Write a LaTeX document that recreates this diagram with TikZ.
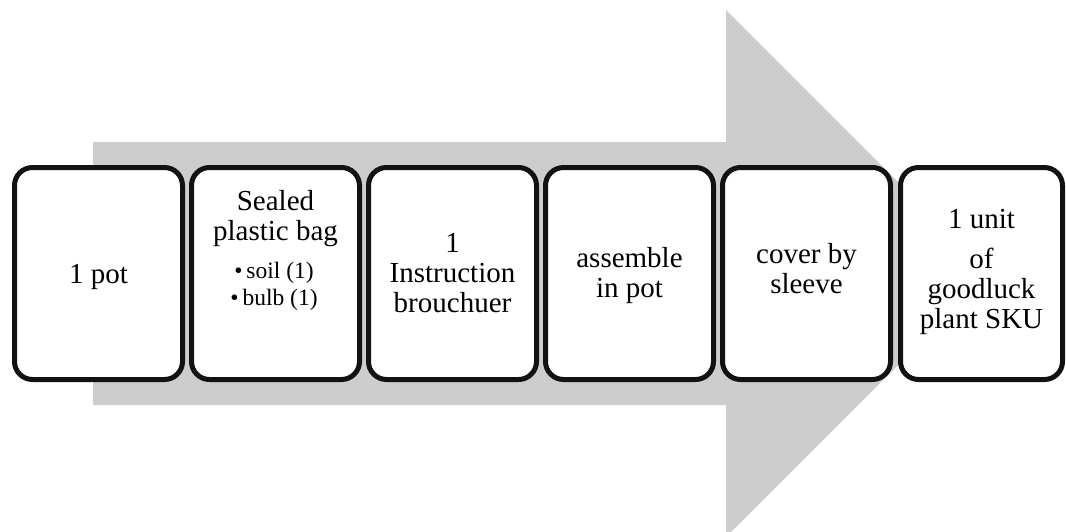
\documentclass[tikz,border=0pt]{standalone}
\usepackage{fontspec}
\setmainfont{Liberation Serif}
\begin{document}
\begin{tikzpicture}[x=1pt,y=-1pt,
  stepbox/.style={draw=black!93,line width=5pt,rounded corners=18pt,fill=white,
    minimum width=168pt,minimum height=212pt,inner sep=0pt},
  lastbox/.style={stepbox,minimum width=162pt},
  big/.style={anchor=base,inner sep=0pt,font=\fontsize{29}{30}\selectfont},
  small/.style={anchor=base,inner sep=0pt,font=\fontsize{23.5}{27}\selectfont}]
\definecolor{arrowgray}{RGB}{205,205,205}
\useasboundingbox (0,0) rectangle (1066,531);
\clip (0,0) rectangle (1066,531);
% wide background arrow
\fill[arrowgray] (93,142) -- (726,142) -- (726,10) -- (989.5,273.5)
  -- (726,537) -- (726,405) -- (93,405) -- cycle;
% process steps
\node[stepbox] (b1) at (98.5,273.5) {};
\node[stepbox] (b2) at (275.5,273.5) {};
\node[stepbox] (b3) at (452.5,273.5) {};
\node[stepbox] (b4) at (629.5,273.5) {};
\node[stepbox] (b5) at (806.5,273.5) {};
\node[lastbox] (b6) at (981.5,273.5) {};
% labels
\node[big] (t1) at (98.5,283) {1 pot};
\node[big] (t2a) at (275.5,210) {Sealed};
\node[big] (t2b) at (275.5,240) {plastic bag};
\node[small] (t2c) at (274,278) {\textbullet\,soil (1)};
\node[small] (t2d) at (274,305) {\textbullet\,bulb (1)};
\node[big] (t3a) at (452.5,252) {1};
\node[big] (t3b) at (452.5,282) {Instruction};
\node[big] (t3c) at (452.5,312) {brouchuer};
\node[big] (t4a) at (629.5,267) {assemble};
\node[big] (t4b) at (629.5,297) {in pot};
\node[big] (t5a) at (806.5,263) {cover by};
\node[big] (t5b) at (806.5,293) {sleeve};
\node[big] (t6a) at (981.5,228) {1 unit};
\node[big] (t6b) at (981.5,268) {of};
\node[big] (t6c) at (981.5,298) {goodluck};
\node[big] (t6d) at (981.5,328) {plant SKU};
\end{tikzpicture}
\end{document}
